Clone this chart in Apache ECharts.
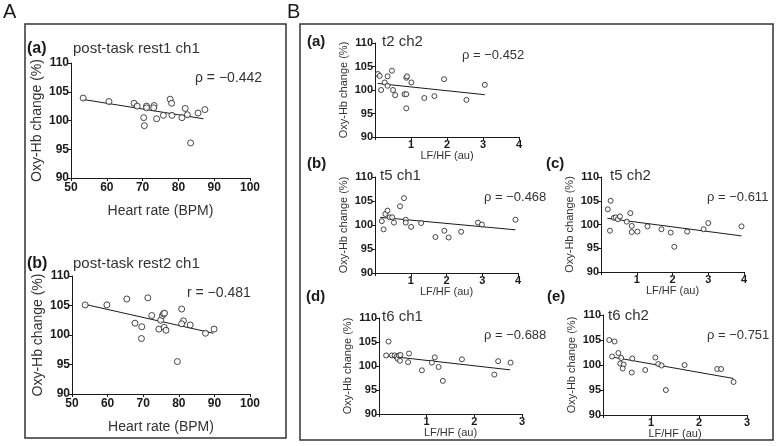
<!DOCTYPE html>
<html>
<head>
<meta charset="utf-8">
<script src="https://cdn.jsdelivr.net/npm/echarts@6/dist/echarts.min.js"></script>
<style>
  html, body { margin: 0; background: #fff; }
  #chart { width: 776px; height: 446px; }
</style>
</head>
<body>
<div id="chart"></div>
<script>
// A(a) post-task rest1 ch1
const rest1HR = [53.4, 60.6, 67.6, 68.5, 71.1, 71.1, 73.2, 73.1, 70.3, 70.5, 73.9, 75.8, 77.7, 78.1, 78.2, 81.0, 81.9, 82.5, 83.4, 85.5, 87.4];
const rest1Oxy = [103.9, 103.3, 103.0, 102.5, 102.5, 102.2, 102.6, 102.2, 100.5, 99.1, 100.3, 100.9, 103.7, 103.0, 100.9, 100.5, 102.1, 101.0, 96.1, 101.3, 101.9];
const rest1FitX = [53, 87];
const rest1FitY = [103.7, 100.3];

// A(b) post-task rest2 ch1
const rest2HR = [53.7, 59.8, 65.4, 71.3, 67.7, 69.6, 69.5, 72.4, 74.9, 75.4, 75.7, 76.0, 74.4, 75.9, 76.4, 79.6, 80.8, 81.3, 80.8, 83.2, 87.5, 89.9];
const rest2Oxy = [105.1, 105.1, 106.1, 106.3, 102.0, 101.4, 99.4, 103.3, 102.5, 103.3, 103.6, 103.7, 101.0, 101.3, 100.8, 95.5, 104.4, 102.4, 101.9, 101.7, 100.3, 101.0];
const rest2FitX = [53.6, 89.7];
const rest2FitY = [105.2, 100.3];

// B(a) t2 ch2
const t2c2LF = [0.08, 0.13, 0.17, 0.27, 0.35, 0.35, 0.47, 0.5, 0.56, 0.82, 0.87, 0.87, 0.87, 0.89, 1.01, 1.37, 1.65, 1.92, 2.54, 3.05];
const t2c2Oxy = [103.4, 103.0, 100.0, 101.6, 102.9, 100.9, 104.1, 100.0, 98.9, 99.1, 99.1, 96.1, 102.6, 102.9, 101.6, 98.3, 98.7, 102.3, 97.9, 101.1];
const t2c2FitX = [0.07, 3.05];
const t2c2FitY = [101.4, 99.0];

// B(b) t5 ch1
const t5c1LF = [0.19, 0.24, 0.29, 0.35, 0.41, 0.48, 0.53, 0.7, 0.81, 0.86, 0.86, 1.01, 1.29, 1.69, 1.94, 2.06, 2.41, 2.88, 2.99, 3.93];
const t5c1Oxy = [100.8, 99.1, 102.3, 103.0, 101.6, 101.6, 100.5, 103.9, 105.6, 101.1, 100.5, 99.6, 100.4, 97.5, 98.8, 97.4, 98.6, 100.5, 100.1, 101.1];
const t5c1FitX = [0.15, 3.93];
const t5c1FitY = [101.6, 99.0];

// B(c) t5 ch2
const t5c2LF = [0.19, 0.27, 0.25, 0.36, 0.41, 0.47, 0.53, 0.72, 0.82, 0.86, 0.86, 1.02, 1.30, 1.69, 1.95, 2.05, 2.41, 2.87, 3.0, 3.93];
const t5c2Oxy = [103.2, 105.0, 98.7, 101.4, 101.5, 101.1, 101.7, 100.6, 102.4, 99.7, 98.4, 98.5, 99.6, 99.0, 98.3, 95.3, 98.5, 99.0, 100.3, 99.6];
const t5c2FitX = [0.18, 3.93];
const t5c2FitY = [101.3, 97.6];

// B(d) t6 ch1
const t6c1LF = [0.15, 0.2, 0.27, 0.33, 0.37, 0.39, 0.42, 0.45, 0.44, 0.63, 0.61, 0.9, 1.11, 1.17, 1.25, 1.34, 1.74, 2.42, 2.5, 2.76];
const t6c1Oxy = [102.2, 105.1, 102.2, 102.2, 101.9, 101.5, 102.2, 102.3, 101.1, 102.6, 100.8, 99.1, 100.7, 101.8, 99.8, 96.9, 101.4, 98.2, 101.0, 100.7];
const t6c1FitX = [0.17, 2.75];
const t6c1FitY = [102.1, 99.2];

// B(e) t6 ch2
const t6c2LF = [0.13, 0.24, 0.19, 0.32, 0.38, 0.36, 0.43, 0.41, 0.61, 0.6, 0.88, 1.09, 1.15, 1.22, 1.31, 1.7, 2.38, 2.46, 2.72];
const t6c2Oxy = [105.0, 104.7, 101.7, 102.4, 101.4, 100.3, 100.1, 99.3, 101.3, 98.5, 99.0, 101.5, 100.2, 99.9, 95.0, 100.0, 99.2, 99.2, 96.6];
const t6c2FitX = [0.19, 2.72];
const t6c2FitY = [101.6, 97.3];

const FONT = 'Liberation Sans, Arial, sans-serif';
const INK = '#1a1a1a';

// grid box, axis ranges, names, text positions
const panels = [
  {x: rest1HR, y: rest1Oxy, fx: rest1FitX, fy: rest1FitY, big: true,
   grid: {left: 71, top: 63, width: 179, height: 115}, xMin: 50, xMax: 100, xInt: 10,
   xName: 'Heart rate (BPM)', letter: '(a)', lp: [27, 50], title: 'post-task rest1 ch1', tp: [73, 50],
   stat: 'ρ = −0.442', sp: [195, 79]},
  {x: rest2HR, y: rest2Oxy, fx: rest2FitX, fy: rest2FitY, big: true,
   grid: {left: 72, top: 276, width: 178, height: 118}, xMin: 50, xMax: 100, xInt: 10,
   xName: 'Heart rate (BPM)', letter: '(b)', lp: [27, 265], title: 'post-task rest2 ch1', tp: [73, 265],
   stat: 'r = −0.481', sp: [187, 294]},
  {x: t2c2LF, y: t2c2Oxy, fx: t2c2FitX, fy: t2c2FitY,
   grid: {left: 375, top: 43, width: 144, height: 94}, xMin: 0, xMax: 4, xInt: 1,
   xName: 'LF/HF (au)', letter: '(a)', lp: [307, 43], title: 't2 ch2', tp: [382, 43],
   stat: 'ρ = −0.452', sp: [462, 57]},
  {x: t5c1LF, y: t5c1Oxy, fx: t5c1FitX, fy: t5c1FitY,
   grid: {left: 375, top: 177, width: 143, height: 96}, xMin: 0, xMax: 4, xInt: 1,
   xName: 'LF/HF (au)', letter: '(b)', lp: [307, 165], title: 't5 ch1', tp: [380, 177],
   stat: 'ρ = −0.468', sp: [484, 199]},
  {x: t5c2LF, y: t5c2Oxy, fx: t5c2FitX, fy: t5c2FitY,
   grid: {left: 601, top: 177, width: 143, height: 95}, xMin: 0, xMax: 4, xInt: 1,
   xName: 'LF/HF (au)', letter: '(c)', lp: [546, 165], title: 't5 ch2', tp: [610, 177],
   stat: 'ρ = −0.611', sp: [707, 199]},
  {x: t6c1LF, y: t6c1Oxy, fx: t6c1FitX, fy: t6c1FitY,
   grid: {left: 379, top: 318, width: 143, height: 96}, xMin: 0, xMax: 3, xInt: 1,
   xName: 'LF/HF (au)', letter: '(d)', lp: [306, 298], title: 't6 ch1', tp: [382, 318],
   stat: 'ρ = −0.688', sp: [484, 337]},
  {x: t6c2LF, y: t6c2Oxy, fx: t6c2FitX, fy: t6c2FitY,
   grid: {left: 603, top: 315, width: 144, height: 100}, xMin: 0, xMax: 3, xInt: 1,
   xName: 'LF/HF (au)', letter: '(e)', lp: [547, 298], title: 't6 ch2', tp: [608, 317],
   stat: 'ρ = −0.751', sp: [707, 337]}
];

const grids = [], xAxes = [], yAxes = [], series = [], texts = [];

panels.forEach((p, i) => {
  const tick = p.big ? 12 : 11;
  const nameSize = p.big ? 14 : 11;
  grids.push(p.grid);
  xAxes.push({
    gridIndex: i, type: 'value', min: p.xMin, max: p.xMax, interval: p.xInt,
    name: p.xName, nameLocation: 'middle', nameGap: p.big ? 26 : 12,
    nameTextStyle: {fontFamily: FONT, fontSize: nameSize, color: '#333'},
    axisLine: {lineStyle: {color: INK, width: 1}},
    axisTick: {length: 3, lineStyle: {color: INK}},
    axisLabel: {fontFamily: FONT, fontSize: tick, fontWeight: 'bold', color: INK, margin: p.big ? 4 : 2,
      formatter: v => (p.big || v !== 0) ? String(v) : ''},
    splitLine: {show: false}
  });
  yAxes.push({
    gridIndex: i, type: 'value', min: 90, max: 110, interval: 5,
    name: 'Oxy-Hb change (%)', nameLocation: 'middle', nameGap: p.big ? 27 : 26,
    nameTextStyle: {fontFamily: FONT, fontSize: nameSize, color: '#333'},
    axisLine: {lineStyle: {color: INK, width: 1}},
    axisTick: {length: 3, lineStyle: {color: INK}},
    axisLabel: {fontFamily: FONT, fontSize: tick, fontWeight: 'bold', color: INK, margin: 2},
    splitLine: {show: false}
  });
  series.push({
    type: 'scatter', xAxisIndex: i, yAxisIndex: i,
    data: p.x.map((v, k) => [v, p.y[k]]),
    symbol: 'circle', symbolSize: p.big ? 6 : 5,
    itemStyle: {color: '#fff', borderColor: INK, borderWidth: 1}
  });
  series.push({
    type: 'line', xAxisIndex: i, yAxisIndex: i,
    data: p.fx.map((v, k) => [v, p.fy[k]]),
    symbol: 'none', lineStyle: {color: INK, width: 1}, z: 1
  });
  texts.push({type: 'text', left: p.lp[0], top: p.lp[1] - 9,
    style: {text: p.letter, font: 'bold ' + (p.big ? 16 : 15) + 'px ' + FONT, fill: INK}});
  texts.push({type: 'text', left: p.tp[0], top: p.tp[1] - 9,
    style: {text: p.title, font: (p.big ? 15 : 15) + 'px ' + FONT, fill: '#333'}});
  texts.push({type: 'text', left: p.sp[0], top: p.sp[1] - 8,
    style: {text: p.stat, font: (p.big ? 14 : 13) + 'px ' + FONT, fill: '#333'}});
});

texts.push({type: 'text', left: 3, top: 2, style: {text: 'A', font: '20px ' + FONT, fill: INK}});
texts.push({type: 'text', left: 287, top: 2, style: {text: 'B', font: '20px ' + FONT, fill: INK}});
texts.push({type: 'rect', shape: {x: 25, y: 24, width: 261, height: 414},
  style: {fill: 'none', stroke: '#333', lineWidth: 1.5}});
texts.push({type: 'rect', shape: {x: 300, y: 24, width: 473, height: 416},
  style: {fill: 'none', stroke: '#333', lineWidth: 1.5}});

const chart = echarts.init(document.getElementById('chart'));
chart.setOption({
  animation: false,
  grid: grids,
  xAxis: xAxes,
  yAxis: yAxes,
  series: series,
  graphic: texts
});
</script>
</body>
</html>
